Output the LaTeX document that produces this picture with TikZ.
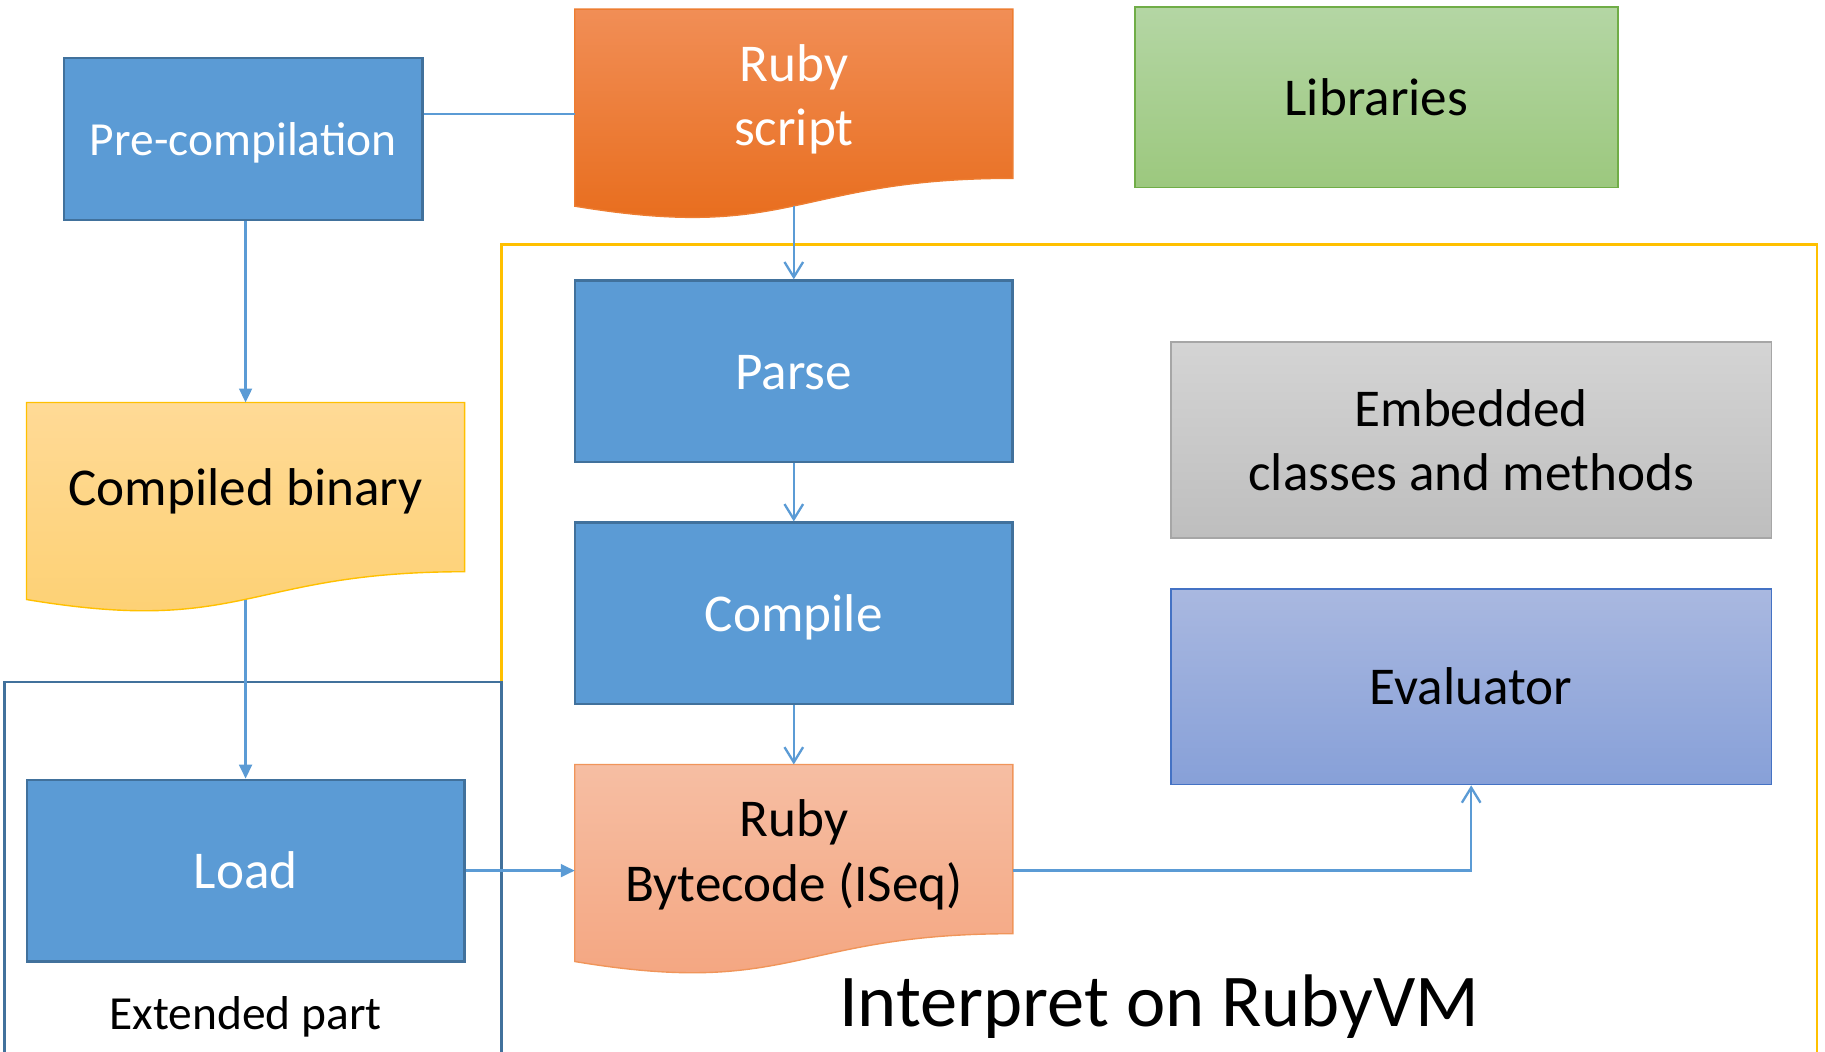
\documentclass[tikz,border=0pt]{standalone}
\usepackage{fontspec}
\setmainfont{Carlito}
\usetikzlibrary{arrows.meta}
\newcommand\tophold{\rule{0pt}{0.952em}}
\newcommand\bothold{\rule[-0.269em]{0pt}{0.269em}}
\definecolor{boxblue}{HTML}{5B9BD5}
\definecolor{boxedge}{HTML}{41719C}
\definecolor{conn}{HTML}{5B9BD5}
\definecolor{frameyellow}{HTML}{FFC000}
\definecolor{frameblue}{HTML}{41719C}
\definecolor{libedge}{HTML}{70AD47}
\definecolor{libtop}{HTML}{B4D6A4}
\definecolor{libbot}{HTML}{9CC87E}
\definecolor{embedge}{HTML}{A6A6A6}
\definecolor{embtop}{HTML}{D4D4D4}
\definecolor{embbot}{HTML}{BEBEBE}
\definecolor{evedge}{HTML}{4472C4}
\definecolor{evtop}{HTML}{A9B8E0}
\definecolor{evbot}{HTML}{87A0D8}
\definecolor{rsedge}{HTML}{ED7D31}
\definecolor{rstop}{HTML}{F18E56}
\definecolor{rsbot}{HTML}{E76A18}
\definecolor{cbtop}{HTML}{FFDA96}
\definecolor{cbbot}{HTML}{FDD071}
\definecolor{bcedge}{HTML}{F0955A}
\definecolor{bctop}{HTML}{F6BEA3}
\definecolor{bcbot}{HTML}{F4A47E}
\pgfdeclarelayer{bg}
\pgfsetlayers{bg,main}
\begin{document}
\begin{tikzpicture}[x=1pt,y=-1pt,
  txt/.style={font=\fontsize{45.7}{55}\selectfont, align=center, inner sep=0pt},
  smalltxt/.style={txt, font=\fontsize{40.8}{50}\selectfont},
  bluebox/.style={txt, rectangle, draw=boxedge, fill=boxblue, line width=2pt, text=white},
  gradbox/.style={txt, rectangle, line width=1.5pt, text=black},
  docnode/.style={txt, rectangle, minimum width=376pt, minimum height=145pt},
  docshape/.style={line width=1.2pt},
  filledarrow/.style={draw=conn, line width=2pt, -{Triangle[length=12pt,width=11pt]}},
  openarrow/.style={draw=conn, line width=2pt, -{Straight Barb[length=13pt,width=16pt,line width=2pt]}},
  plainline/.style={draw=conn, line width=2pt},
  frameline/.style={line width=2pt},
]
\clip (0,0) rectangle (1568,903);

% frames
\draw[frameline, draw=frameyellow] (431,210) rectangle (1561,930);
\draw[frameline, draw=frameblue] (4,586) rectangle (431,930);

% plain boxes
\node[bluebox, smalltxt, minimum width=308pt, minimum height=139pt] (pre) at (209,119.5) {\tophold Pre-compilation\bothold};
\node[bluebox, minimum width=376pt, minimum height=156pt] (parse) at (682,319) {\tophold Parse\bothold};
\node[bluebox, minimum width=376pt, minimum height=156pt] (compile) at (682,527) {\tophold Compile\bothold};
\node[bluebox, minimum width=376pt, minimum height=156pt] (load) at (211,748) {\tophold Load\bothold};
\node[gradbox, draw=libedge, top color=libtop, bottom color=libbot, minimum width=415pt, minimum height=155pt] (lib) at (1182.5,83.5) {\tophold Libraries\bothold};
\node[gradbox, draw=embedge, top color=embtop, bottom color=embbot, minimum width=516pt, minimum height=168pt] (emb) at (1264,378) {\tophold Embedded\\classes and methods\bothold};
\node[gradbox, draw=evedge, top color=evtop, bottom color=evbot, minimum width=516pt, minimum height=168pt] (ev) at (1264,590) {\tophold Evaluator\bothold};

% document-shaped nodes (text area)
\node[docnode, text=white] (rs) at (682,82) {\tophold Ruby\\script\bothold};
\node[docnode] (cb) at (211,419) {\tophold Compiled binary\bothold};
\node[docnode] (bc) at (682,731) {\tophold Ruby\\Bytecode (ISeq)\bothold};

\begin{pgfonlayer}{bg}
\path[docshape, draw=rsedge, top color=rstop, bottom color=rsbot]
  ([yshift=1.5pt]rs.north west) -- ([yshift=1.5pt]rs.north east) -- ([yshift=1.5pt]rs.south east)
  .. controls ([yshift=1.5pt]rs.south) and ([yshift=-53.8pt]rs.south) .. ([yshift=-22.4pt]rs.south west) -- cycle;
\path[docshape, draw=frameyellow, top color=cbtop, bottom color=cbbot]
  ([yshift=0.5pt]cb.north west) -- ([yshift=0.5pt]cb.north east) -- ([yshift=0.5pt]cb.south east)
  .. controls ([yshift=0.5pt]cb.south) and ([yshift=-54.8pt]cb.south) .. ([yshift=-23.4pt]cb.south west) -- cycle;
\path[docshape, draw=bcedge, top color=bctop, bottom color=bcbot]
  ([yshift=1.5pt]bc.north west) -- ([yshift=1.5pt]bc.north east) -- ([yshift=1.5pt]bc.south east)
  .. controls ([yshift=1.5pt]bc.south) and ([yshift=-53.8pt]bc.south) .. ([yshift=-22.4pt]bc.south west) -- cycle;
\end{pgfonlayer}

% free ends at the wavy bottoms
\coordinate (rsb) at ([yshift=-22.5pt]rs.south);
\coordinate (cbb) at ([yshift=-23.5pt]cb.south);

% connectors
\draw[plainline] ([yshift=21.5pt]pre.east) -- ([yshift=21.5pt]pre.east -| rs.west);
\draw[filledarrow] (cb.north |- pre.south) -- ([yshift=0.5pt]cb.north);
\draw[filledarrow] (cbb) -- (load.north);
\draw[filledarrow] (load.east) -- (load.east -| bc.west);
\draw[openarrow] (rsb) -- (parse.north);
\draw[openarrow] (parse.south) -- (compile.north);
\draw[openarrow] (compile.south) -- ([yshift=1.5pt]bc.north);
\draw[openarrow] (load.east -| bc.east) -| (ev.south);

% labels
\node[smalltxt] (ext) at (211,871) {\tophold Extended part\bothold};
\node[txt, font=\fontsize{64}{75}\selectfont] (interp) at (996,860) {\tophold Interpret on RubyVM\bothold};
\end{tikzpicture}
\end{document}
